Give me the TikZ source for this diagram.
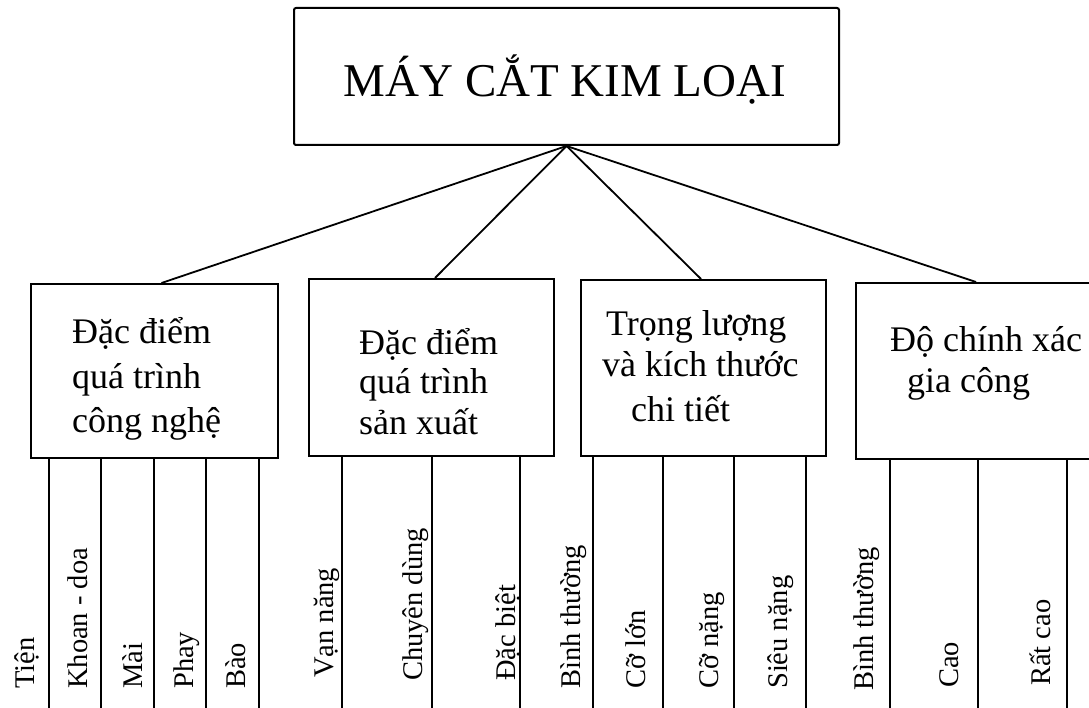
\documentclass[tikz,border=0pt]{standalone}
\usepackage{fontspec}
\setmainfont{Liberation Serif}
\begin{document}
\begin{tikzpicture}[x=1pt,y=-1pt,
  box/.style={draw, line width=2pt, inner sep=0pt, anchor=north west},
  conn/.style={line width=1.8pt},
  sep/.style={line width=2pt},
  boxtxt/.style={anchor=base west, inner sep=0pt, font=\fontsize{36}{44}\selectfont},
  leaf/.style={rotate=90, anchor=base west, inner sep=0pt, font=\fontsize{28.5}{34}\selectfont}]
\useasboundingbox (0,0) rectangle (1089,708);

% top box
\node[box, rounded corners=2pt, minimum width=545pt, minimum height=137pt] (top) at (293,7) {};
\node[anchor=base, inner sep=0pt, font=\fontsize{47}{50}\selectfont] (title) at (565,97) {MÁY CẮT KIM LOẠI};

% category boxes
\node[box, minimum width=247pt, minimum height=174pt] (b1) at (30,283) {};
\node[box, minimum width=245pt, minimum height=177pt] (b2) at (308,278) {};
\node[box, minimum width=245pt, minimum height=176pt] (b3) at (580,279) {};
\node[box, minimum width=260pt, minimum height=176pt] (b4) at (855,282) {};

% connectors
\draw[conn] (top.south) -- ([xshift=7pt]b1.north);
\draw[conn] (top.south) -- ([xshift=3.5pt]b2.north);
\draw[conn] (top.south) -- ([xshift=-2.5pt]b3.north);
\draw[conn] (top.south) -- ([xshift=-10pt]b4.north);

% box texts
\node[boxtxt] (b1l1) at (72,344) {Đặc điểm};
\node[boxtxt] (b1l2) at (72,388) {quá trình};
\node[boxtxt] (b1l3) at (72,432) {công nghệ};

\node[boxtxt] (b2l1) at (359,354) {Đặc điểm};
\node[boxtxt] (b2l2) at (359,393) {quá trình};
\node[boxtxt] (b2l3) at (359,434) {sản xuất};

\node[boxtxt] (b3l1) at (606,336) {Trọng lượng};
\node[boxtxt] (b3l2) at (602,376) {và kích thước};
\node[boxtxt] (b3l3) at (631,421) {chi tiết};

\node[boxtxt] (b4l1) at (890,352) {Độ chính xác};
\node[boxtxt] (b4l2) at (907,392) {gia công};

% separator lines
\foreach \x in {49,101,154,206,259} \draw[sep] (b1.south -| \x,0) -- (\x,712);
\foreach \x in {342,432,520} \draw[sep] (b2.south -| \x,0) -- (\x,712);
\foreach \x in {593,663,734,806} \draw[sep] (b3.south -| \x,0) -- (\x,712);
\foreach \x in {890,978,1067} \draw[sep] (b4.south -| \x,0) -- (\x,712);

% leaf labels
\node[leaf] (l11) at (34,689) {Tiện};
\node[leaf] (l12) at (87,689) {Khoan - doa};
\node[leaf] (l13) at (142,689) {Mài};
\node[leaf] (l14) at (193,689) {Phay};
\node[leaf] (l15) at (245,689) {Bào};

\node[leaf] (l21) at (333,678) {Vạn năng};
\node[leaf] (l22) at (422,681) {Chuyên dùng};
\node[leaf] (l23) at (515,681) {Đặc biệt};

\node[leaf] (l31) at (580,689) {Bình thường};
\node[leaf] (l32) at (645,689) {Cỡ lớn};
\node[leaf] (l33) at (718,689) {Cỡ nặng};
\node[leaf] (l34) at (787,689) {Siêu nặng};

\node[leaf] (l41) at (873,691) {Bình thường};
\node[leaf] (l42) at (958,688) {Cao};
\node[leaf] (l43) at (1050,686) {Rất cao};
\end{tikzpicture}
\end{document}
